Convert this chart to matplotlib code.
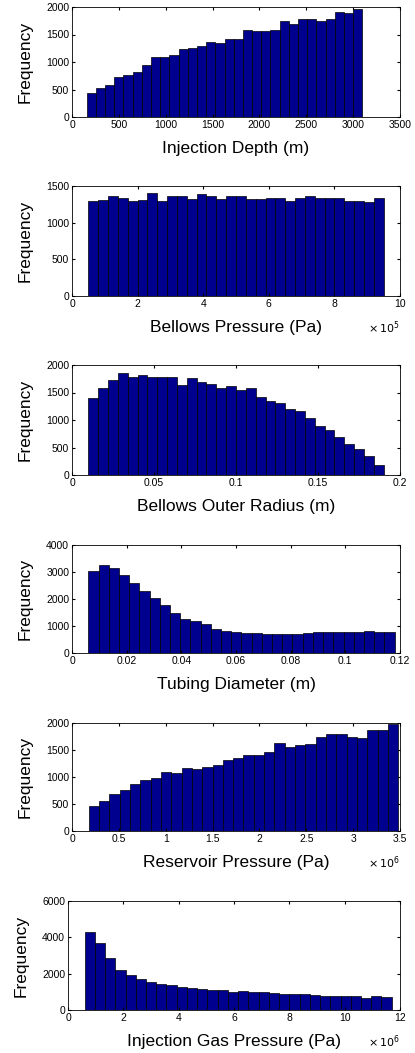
import numpy as np
import matplotlib
matplotlib.use("Agg")
import matplotlib.pyplot as plt
from matplotlib.ticker import FuncFormatter

plt.rcParams.update({
    "font.family": ["Liberation Sans", "DejaVu Sans"],
    "font.size": 7.5,
    "xtick.direction": "in",
    "ytick.direction": "in",
    "xtick.top": True,
    "ytick.right": True,
    "xtick.major.size": 2.5,
    "ytick.major.size": 2.5,
    "axes.linewidth": 0.6,
})

# --- data (bin counts, 30 bins each) ---
depth_range = (157, 3098)
depth_counts = [430, 520, 590, 720, 770, 810, 940, 1090, 1090, 1130,
                1240, 1260, 1290, 1370, 1350, 1410, 1420, 1590, 1570, 1570,
                1590, 1740, 1690, 1780, 1780, 1740, 1790, 1910, 1890, 1970]

bellows_p_range = (0.5e5, 9.5e5)
bellows_p_counts = [1290, 1310, 1360, 1340, 1300, 1310, 1400, 1290, 1370, 1370,
                    1320, 1390, 1360, 1320, 1360, 1370, 1320, 1320, 1330, 1330,
                    1300, 1340, 1360, 1330, 1330, 1340, 1300, 1290, 1280, 1340]

radius_range = (0.01, 0.19)
radius_counts = [1400, 1590, 1720, 1850, 1780, 1810, 1780, 1790, 1790, 1630,
                 1760, 1700, 1650, 1590, 1610, 1540, 1590, 1420, 1350, 1310,
                 1200, 1160, 1030, 890, 810, 690, 560, 470, 340, 190]

tubing_range = (0.006, 0.118)
tubing_counts = [3050, 3250, 3130, 2880, 2580, 2290, 2040, 1780, 1490, 1260,
                 1180, 1070, 900, 830, 790, 750, 750, 720, 720, 720,
                 720, 750, 790, 760, 760, 760, 790, 820, 790, 790]

reservoir_range = (0.18e6, 3.48e6)
reservoir_counts = [460, 550, 680, 760, 870, 940, 980, 1090, 1070, 1160,
                    1140, 1180, 1220, 1310, 1350, 1410, 1410, 1460, 1630, 1550,
                    1590, 1610, 1740, 1790, 1790, 1740, 1720, 1870, 1870, 1990]

gas_range = (0.6e6, 11.7e6)
gas_counts = [4290, 3680, 2880, 2220, 1950, 1730, 1530, 1420, 1350, 1240,
              1190, 1140, 1080, 1080, 970, 1020, 970, 970, 920, 860,
              860, 860, 810, 760, 760, 760, 760, 650, 760, 700]

panels = [
    # label, range, counts, xmax, xstep, ymax, ystep, exponent, axes px (left, top, bottom)
    ("Injection Depth (m)", depth_range, depth_counts, 3500, 500, 2000, 500, 0, (72, 7, 117)),
    ("Bellows Pressure (Pa)", bellows_p_range, bellows_p_counts, 10e5, 2e5, 1500, 500, 5, (72, 186, 296)),
    ("Bellows Outer Radius (m)", radius_range, radius_counts, 0.2, 0.05, 2000, 500, 0, (72, 365, 475)),
    ("Tubing Diameter (m)", tubing_range, tubing_counts, 0.12, 0.02, 4000, 1000, 0, (72, 545, 653)),
    ("Reservoir Pressure (Pa)", reservoir_range, reservoir_counts, 3.5e6, 0.5e6, 2000, 500, 6, (72, 723, 831)),
    ("Injection Gas Pressure (Pa)", gas_range, gas_counts, 12e6, 2e6, 6000, 2000, 6, (68, 901, 1010)),
]

W, H = 415, 1053
fig = plt.figure(figsize=(W / 100, H / 100), dpi=100)

for label, (lo, hi), counts, xmax, xstep, ymax, ystep, expo, (lpx, tpx, bpx) in panels:
    ax = fig.add_axes([lpx / W, (H - bpx) / H, (400 - lpx) / W, (bpx - tpx) / H])
    edges = np.linspace(lo, hi, len(counts) + 1)
    ax.bar(edges[:-1], counts, width=np.diff(edges), align="edge",
           color="#00008f", edgecolor="black", linewidth=0.5)
    ax.set_xlim(0, xmax)
    ax.set_ylim(0, ymax)
    ax.set_xticks(np.arange(0, xmax + xstep / 2, xstep))
    ax.set_yticks(np.arange(0, ymax + ystep / 2, ystep))
    scale = 10.0 ** expo
    ax.xaxis.set_major_formatter(FuncFormatter(lambda v, p, s=scale: f"{v / s:g}"))
    ax.tick_params(pad=2)
    ax.set_xlabel(label, fontsize=12.5, labelpad=8)
    ax.set_ylabel("Frequency", fontsize=12.5, labelpad=10)
    if expo:
        ax.text(1.0, -0.29, r"$\times\,10^{%d}$" % expo, transform=ax.transAxes,
                ha="right", va="center", fontsize=8)

fig.savefig("out.png", dpi=100, facecolor="white")
